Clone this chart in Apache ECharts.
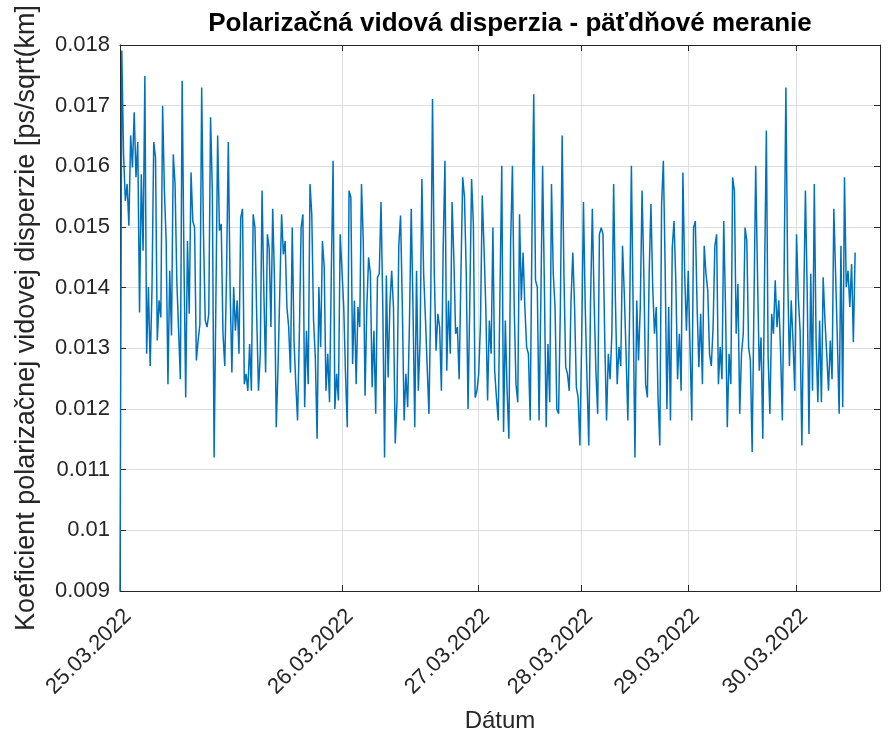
<!DOCTYPE html>
<html lang="sk">
<head>
  <meta charset="UTF-8">
  <title>PMD</title>
  <script src="https://cdn.jsdelivr.net/npm/echarts@6/dist/echarts.min.js"></script>
  <style>
    html, body { margin: 0; padding: 0; background: #fff; }
    #main { width: 889px; height: 745px; }
  </style>
</head>
<body>
<div id="main"></div>
<script>
  // PMD coefficient, values in 1e-3 ps/sqrt(km), one array per measuring day
  const days = ['25.03.2022', '26.03.2022', '27.03.2022', '28.03.2022', '29.03.2022', '30.03.2022'];

  const day25 = [9.0, 17.91, 16.2, 15.43, 15.71, 15.02, 16.51, 15.98, 16.89, 15.82, 16.40, 13.59, 15.87, 14.61, 17.49,
    12.91, 14.01, 12.71, 13.95, 16.40, 16.15, 13.13, 13.79, 13.51, 17.0, 15.6, 14.77, 12.41, 14.28, 13.21, 16.20, 15.71,
    14.12, 13.3, 12.49, 17.41, 14.50, 12.19, 14.77, 13.57, 15.90, 15.10, 14.99, 12.80, 13.13, 13.40, 17.30, 14.9, 13.46,
    13.35, 13.57, 16.81, 15.60, 11.20, 13.79, 16.51, 14.94, 15.05, 13.24, 12.71, 14.23, 16.40, 14.01, 12.60, 14.01, 13.29,
    13.79, 12.91, 15.16, 15.30, 12.41, 12.58, 12.30, 13.07, 12.30, 15.21, 14.99, 13.51, 12.30, 12.91, 15.60, 13.95, 12.60,
    14.88, 14.66, 13.35, 15.30, 14.12, 11.70, 12.69, 12.69, 15.21, 14.55, 14.77, 13.68, 13.35, 12.60, 14.99, 13.13, 12.41,
    11.81, 13.24, 14.99, 15.21, 12.03, 13.29, 12.41, 15.71, 15.21, 13.46, 12.85, 11.51, 14.01, 13.02, 14.77, 14.34, 12.30,
    12.91, 12.11, 14.23, 16.09, 12.0, 12.58, 12.14, 14.88];
  const day26 = [14.88, 13.68, 12.58, 11.70, 15.60, 15.49, 12.74, 13.79, 12.41, 13.68, 13.35, 15.71, 14.77, 12.22, 13.68,
    14.50, 14.23, 12.36, 13.29, 11.92, 14.17, 14.23, 15.41, 13.68, 11.20, 14.20, 12.52, 13.73, 14.28, 13.68, 11.43, 12.14,
    14.69, 15.19, 13.68, 11.81, 12.58, 12.03, 13.40, 15.30, 13.68, 11.70, 14.28, 12.30, 13.13, 15.79, 14.23, 13.5, 12.69,
    11.92, 13.84, 17.11, 14.23, 12.96, 13.57, 13.35, 12.30, 14.66, 16.09, 12.63, 13.79, 12.91, 15.41, 14.50, 13.24, 13.35,
    12.49, 14.23, 15.82, 15.49, 14.23, 12.0, 13.79, 15.79, 15.05, 12.19, 12.30];
  const day27 = [12.58, 13.40, 15.52, 14.66, 13.68, 12.14, 13.46, 12.91, 14.99, 12.63, 12.19, 11.81, 13.95, 16.01, 11.62,
    13.46, 12.30, 11.51, 14.77, 16.01, 13.68, 12.41, 12.11, 15.21, 13.79, 14.58, 13.68, 13.02, 12.91, 11.81, 14.88, 17.19,
    14.12, 14.01, 11.81, 13.79, 16.01, 14.01, 11.70, 13.07, 12.11, 15.71, 14.23, 13.68, 12.0, 11.92, 13.68, 16.51, 14.23,
    12.69, 12.58, 12.30, 13.79, 14.58, 13.68, 12.36, 12.19, 11.40];
  const day28 = [13.13, 15.41, 13.68, 12.49, 11.40, 13.79, 15.30, 13.79, 12.63, 11.92, 14.88, 14.99, 14.88, 13.13, 11.81,
    12.91, 12.49, 13.24, 15.71, 13.79, 12.41, 13.02, 12.71, 14.69, 13.90, 12.91, 11.81, 13.57, 16.01, 15.98, 11.20, 13.79,
    12.80, 13.68, 15.60, 14.23, 12.41, 12.19, 14.23, 15.38, 14.01, 13.24, 13.68, 12.19, 11.40, 15.38, 16.09, 14.34, 12.0,
    13.68, 11.81, 14.66, 15.10, 14.12, 12.49, 13.24, 12.30, 15.90, 14.23, 13.29];
  const day29 = [14.28, 14.28, 11.81, 14.99, 15.10, 13.68, 12.69, 13.57, 12.41, 14.69, 14.23, 13.95, 12.91, 12.71, 13.35,
    14.69, 14.88, 12.41, 13.02, 12.49, 15.10, 13.68, 11.70, 12.91, 12.41, 15.82, 15.60, 13.24, 14.06, 11.92, 12.91, 13.24,
    14.99, 14.77, 13.02, 12.80, 11.29, 13.68, 16.01, 14.23, 12.63, 13.18, 11.51, 14.23, 16.59, 12.85, 11.92, 13.57, 13.24,
    14.12, 13.35, 13.79, 12.96, 11.81, 14.23, 17.30, 14.23, 12.71, 13.79, 13.13, 12.30];
  const day30 = [14.88, 13.84, 13.29, 11.40, 13.68, 15.60, 13.95, 11.59, 14.23, 12.30, 15.71, 13.13, 12.11, 13.46, 12.11,
    14.17, 13.46, 12.91, 12.30, 13.13, 12.49, 15.30, 14.23, 13.13, 11.92, 14.69, 12.03, 15.82, 14.01, 14.28, 13.68, 14.39,
    13.10, 14.58];

  const yTicks = [9, 10, 11, 12, 13, 14, 15, 16, 17, 18];
  const axisSlots = 429; // measurement index slots shown on the x axis

  const perDay = [day25, day26, day27, day28, day29, day30];
  const dayStart = [];
  let pmd = [];
  perDay.forEach(arr => { dayStart.push(pmd.length); pmd = pmd.concat(arr); });
  const slots = Array.from({ length: axisSlots }, (_, i) => String(i));
  const isDayStart = (i) => dayStart.indexOf(i) >= 0;

  const ink = '#262626';
  const gridCol = '#DEDEDE';
  const font = '"Liberation Sans", Arial, sans-serif';

  const chart = echarts.init(document.getElementById('main'));
  chart.setOption({
    animation: false,
    textStyle: { fontFamily: font },
    title: {
      text: 'Polarizačná vidová disperzia - päťdňové meranie',
      left: 505, top: 6, textAlign: 'center',
      textStyle: { fontFamily: font, fontSize: 26, fontWeight: 'bold', color: '#000' }
    },
    grid: { left: 120, right: 9, top: 45, bottom: 154 },
    xAxis: [
      {
        type: 'category',
        data: slots,
        boundaryGap: false,
        name: 'Dátum',
        nameLocation: 'middle',
        nameGap: 118,
        nameTextStyle: { fontSize: 24, color: ink },
        axisLine: { lineStyle: { color: ink, width: 1 } },
        axisTick: { inside: true, length: 6, interval: isDayStart, lineStyle: { color: ink } },
        axisLabel: {
          interval: isDayStart,
          rotate: 45,
          fontSize: 22,
          color: ink,
          margin: 14,
          verticalAlign: 'top',
          formatter: (v) => days[dayStart.indexOf(Number(v))] || ''
        },
        splitLine: { show: true, interval: isDayStart, lineStyle: { color: gridCol, width: 1 } }
      },
      {
        type: 'category',
        data: slots,
        boundaryGap: false,
        position: 'top',
        axisLine: { lineStyle: { color: ink, width: 1 } },
        axisTick: { inside: true, length: 6, interval: isDayStart, lineStyle: { color: ink } },
        axisLabel: { show: false },
        splitLine: { show: false }
      }
    ],
    yAxis: [
      {
        type: 'value',
        min: yTicks[0],
        max: yTicks[yTicks.length - 1],
        interval: 1,
        name: 'Koeficient polarizačnej vidovej disperzie [ps/sqrt(km]',
        nameLocation: 'middle',
        nameRotate: 90,
        nameGap: 80,
        nameTextStyle: { fontSize: 27, color: ink },
        axisLine: { show: true, lineStyle: { color: ink, width: 1 } },
        axisTick: { show: true, inside: true, length: 6, lineStyle: { color: ink } },
        axisLabel: {
          fontSize: 22, color: ink, margin: 10,
          formatter: v => String(parseFloat((v / 1000).toFixed(3)))
        },
        splitLine: { show: true, lineStyle: { color: gridCol, width: 1 } }
      },
      {
        type: 'value',
        position: 'right',
        min: yTicks[0],
        max: yTicks[yTicks.length - 1],
        interval: 1,
        axisLine: { show: true, lineStyle: { color: ink, width: 1 } },
        axisTick: { show: true, inside: true, length: 6, lineStyle: { color: ink } },
        axisLabel: { show: false },
        splitLine: { show: false }
      }
    ],
    series: [{
      type: 'line',
      data: pmd,
      showSymbol: false,
      symbol: 'none',
      color: '#0072BD',
      lineStyle: { width: 1.5, color: '#0072BD' }
    }]
  });
</script>
</body>
</html>
